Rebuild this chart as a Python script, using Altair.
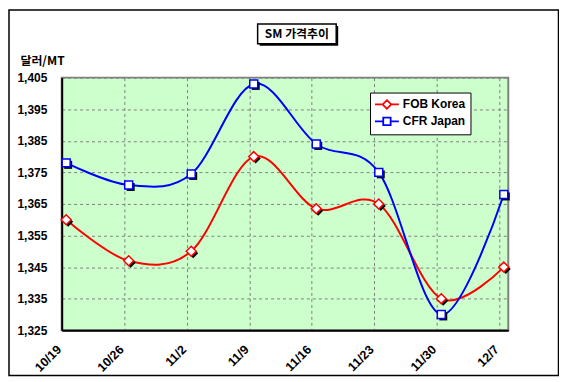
import altair as alt
import pandas as pd

dates = ["10/19", "10/26", "11/2", "11/9", "11/16", "11/23", "11/30", "12/7"]
fob_korea = [1360, 1347, 1350, 1380, 1363.5, 1365, 1335, 1345]
cfr_japan = [1378, 1371, 1374.5, 1403, 1384, 1375, 1330, 1368]
series_names = ["FOB Korea", "CFR Japan"]
series_colors = ["#FF0000", "#0000FF"]
y_ticks = [1325, 1335, 1345, 1355, 1365, 1375, 1385, 1395, 1405]
title_text = "SM 가격추이"
y_title = "달러/MT"

rows = []
for d, v in zip(dates, fob_korea):
    rows.append({"date": d, "series": series_names[0], "value": v})
for d, v in zip(dates, cfr_japan):
    rows.append({"date": d, "series": series_names[1], "value": v})
df = pd.DataFrame(rows)

W, H = 449, 254
LBL = "Liberation Sans"
KFONT = "Noto Sans CJK KR"

x_enc = alt.X(
    "date:O", sort=dates,
    scale=alt.Scale(type="point", padding=0.0716),
    axis=alt.Axis(
        title=None, labelAngle=315, labelAlign="right", labelBaseline="middle",
        labelPadding=17, labelOffset=-3, tickOffset=-4.5, ticks=False,
        grid=True, gridDash=[3, 3], gridColor="#808080", gridWidth=1,
        domainColor="black", domainWidth=2,
        labelFont=LBL, labelFontWeight="bold", labelFontSize=12.5, labelColor="black",
    ),
)
y_enc = alt.Y(
    "value:Q",
    scale=alt.Scale(domain=[1325, 1405], nice=False, zero=False),
    axis=alt.Axis(
        values=y_ticks, format=",.0f", ticks=False, labelPadding=15,
        grid=True, gridDash=[3, 3], gridColor="#808080", gridWidth=1,
        domainColor="black", domainWidth=2,
        labelFont=LBL, labelFontWeight="bold", labelFontSize=12, labelColor="black",
        title=y_title, titleAngle=0, titleX=-42, titleY=-13, titleAlign="left",
        titleBaseline="alphabetic", titleFont=KFONT, titleFontWeight="bold",
        titleFontSize=12, titleColor="black",
    ),
)

base = alt.Chart(df)

legend_paths = [
    "M-2,0L-0.72,0M0.72,0L2,0M0,-0.72L0.72,0L0,0.72L-0.72,0Z",
    "M-2,0L-0.62,0M0.62,0L2,0M-0.62,-0.62L0.62,-0.62L0.62,0.62L-0.62,0.62Z",
]
leg = alt.Legend(
    orient="none", legendX=310, legendY=15, title=None,
    fillColor="white", strokeColor="black", padding=5, cornerRadius=0,
    symbolSize=144, symbolStrokeWidth=1.8, symbolOffset=5, labelOffset=9, rowPadding=1,
    labelFont=LBL, labelFontWeight="bold", labelFontSize=12, labelColor="black",
)

lines = base.mark_line(interpolate="cardinal", strokeWidth=2).encode(
    x=x_enc, y=y_enc,
    color=alt.Color("series:N", scale=alt.Scale(domain=series_names, range=series_colors), legend=leg),
)

legend_layer = base.mark_point(filled=False, strokeWidth=1.8, size=0, opacity=1).encode(
    x=x_enc, y=y_enc,
    color=alt.Color("series:N", scale=alt.Scale(domain=series_names, range=series_colors), legend=leg),
    shape=alt.Shape("series:N", scale=alt.Scale(domain=series_names, range=legend_paths), legend=leg),
)

shapes = ["diamond", "square"]
sizes = [100, 64]
layers = [lines]
for name, shp, sz in zip(series_names, shapes, sizes):
    layers.append(
        base.mark_point(shape=shp, filled=True, color="black", size=sz, xOffset=2, yOffset=2, opacity=1)
        .encode(x=x_enc, y=y_enc)
        .transform_filter(alt.datum.series == name)
    )
for name, shp, sz, col in zip(series_names, shapes, sizes, series_colors):
    layers.append(
        base.mark_point(shape=shp, filled=True, fill="white", stroke=col, strokeWidth=1.5, size=sz, opacity=1)
        .encode(x=x_enc, y=y_enc)
        .transform_filter(alt.datum.series == name)
    )
layers.append(legend_layer)

one = alt.Data(values=[{"k": 1}])
frame = alt.Chart(one).mark_rect(fill="transparent", stroke="black", strokeWidth=1.5).encode(
    x=alt.value(-53), x2=alt.value(499.5), y=alt.value(-68), y2=alt.value(299.5)
)
title_shadow = alt.Chart(one).mark_rect(fill="black").encode(
    x=alt.value(199), x2=alt.value(278), y=alt.value(-52), y2=alt.value(-32)
)
title_box = alt.Chart(one).mark_rect(fill="white", stroke="black", strokeWidth=1.5).encode(
    x=alt.value(197), x2=alt.value(276), y=alt.value(-54), y2=alt.value(-34)
)
title_txt = alt.Chart(one).mark_text(
    text=title_text, font=KFONT, fontWeight="bold", fontSize=12, color="black",
    align="center", baseline="middle"
).encode(x=alt.value(236.5), y=alt.value(-44))

chart = alt.layer(*layers, frame, title_shadow, title_box, title_txt).properties(
    width=W, height=H,
    autosize=alt.AutoSizeParams(type="none"),
    padding={"left": 54, "top": 69, "right": 51, "bottom": 46},
).configure(
    background="white",
    view=alt.ViewConfig(stroke="#808080", strokeWidth=2, fill="#CCFFCC"),
)

chart.save("out.html", embed_options={"renderer": "svg", "actions": False})
